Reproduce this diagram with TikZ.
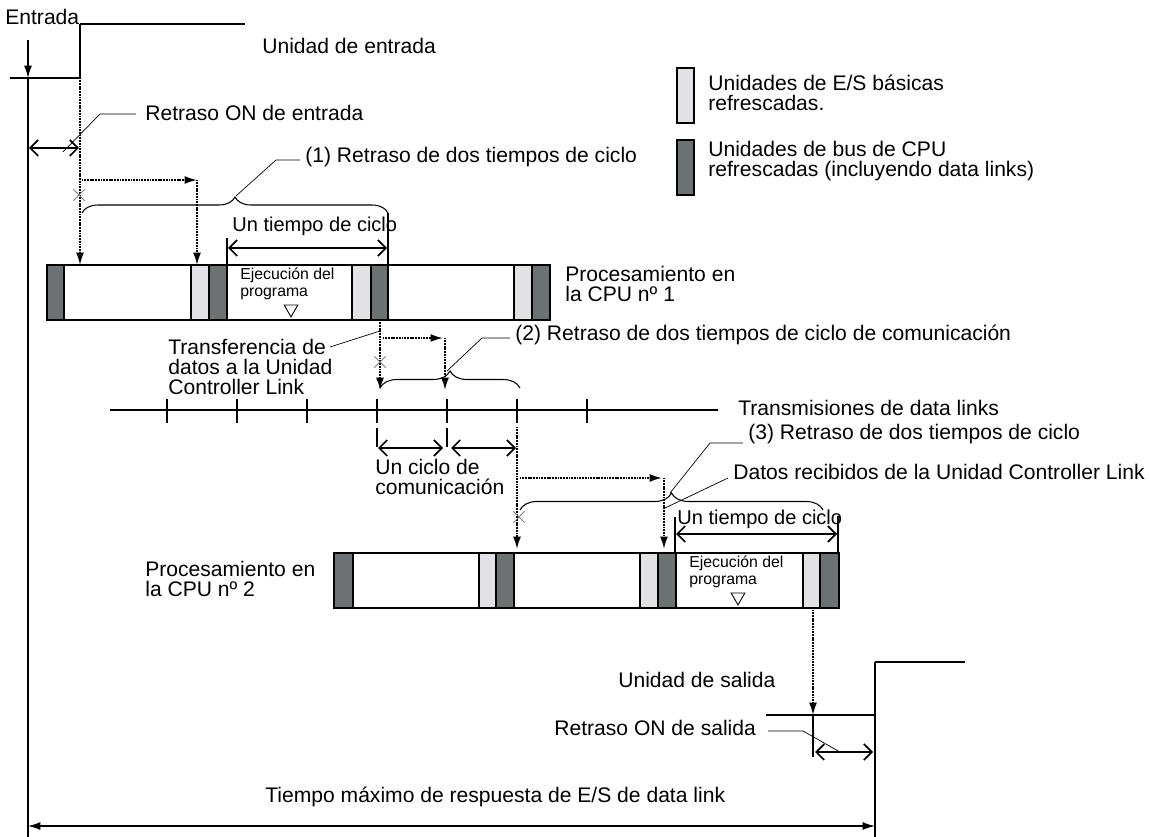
\documentclass[tikz,border=0pt]{standalone}
\usepackage{fontspec}
\setmainfont{Liberation Sans}
\usetikzlibrary{arrows.meta, decorations.pathreplacing, shapes.geometric, shapes.misc}

\definecolor{iofill}{HTML}{E1E2E5}
\definecolor{busfill}{HTML}{6C7173}

\begin{document}
\begin{tikzpicture}[
	x=0.02cm, y=-0.02cm,
	lbl/.style={anchor=west, inner sep=0pt, font=\fontsize{12}{11.5}\selectfont, align=left},
	cyctxt/.style={anchor=west, inner sep=0pt, font=\fontsize{11.4}{12}\selectfont},
	smalltxt/.style={anchor=west, inner sep=0pt, font=\fontsize{9}{9.8}\selectfont, align=left},
	iobox/.style={draw, line width=0.6pt, fill=iofill},
	busbox/.style={draw, line width=0.6pt, fill=busfill},
	runbox/.style={draw, line width=0.6pt, fill=white},
	flow/.style={dash pattern=on 0.6pt off 0.3pt, line width=1pt, -{Latex[length=7pt, width=4.5pt]}},
	span/.style={line width=1pt, {Straight Barb[length=4.5pt, width=9pt]}-{Straight Barb[length=4.5pt, width=9pt]}},
	lead/.style={line width=0.4pt},
	marktick/.style={line width=0.6pt},
	brc/.style={decorate, decoration={brace, amplitude=#1}, line width=0.6pt},
	xmark/.style={cross out, draw=gray, line width=0.5pt, minimum size=6pt, inner sep=0pt},
	tri/.style={regular polygon, regular polygon sides=3, shape border rotate=180, draw, line width=0.5pt, inner sep=0pt, minimum size=9pt}
	]
	\useasboundingbox (0,0) rectangle (1149,837);

	% input unit
	\node[lbl] (entrada) at (5,17) {Entrada};
	\draw[line width=0.6pt] (10,78) -- (80,78) -- (80,24);
	\draw[line width=1pt] (80,24) -- (245,24);
	\node[lbl] (unient) at (262,46) {Unidad de entrada};
	\coordinate (inL) at (28,78);
	\coordinate (inR) at (80,78);
	\draw[line width=0.8pt, -{Latex[length=7pt, width=4.5pt]}] (28,40) -- (inL);
	\draw[line width=0.6pt] (inL) -- (28,837);
	\draw[span] (29,148) -- (79,148);
	\node[lbl] (retent) at (145,113) {Retraso ON de entrada};
	\draw[lead] (136,114) -- (100,114) -- (63,152);

	% legend
	\draw[iobox] (677,68) rectangle (694,123);
	\draw[busbox] (677,140) rectangle (694,195);
	\node[lbl] (legio) at (708,93) {Unidades de E/S básicas\\refrescadas.};
	\node[lbl] (legbus) at (708,161) {Unidades de bus de CPU\\refrescadas (incluyendo data links)};

	% delay (1)
	\draw[flow] (inR) -- (80,265);
	\draw[flow] (82,180) -- (197,180);
	\draw[flow] (197,180) -- (197,265);
	\node[xmark] (x1) at (79,195) {};
	\draw[brc=0.32cm] (82,213) -- (388,213);
	\draw[lead] (236,196) -- (276,160) -- (300,160);
	\node[lbl] (ret1) at (305,157) {(1) Retraso de dos tiempos de ciclo};
	\node[cyctxt] (ciclo1) at (232,226) {Un tiempo de ciclo};
	\draw[marktick] (227,238) -- (227,265);
	\draw[marktick] (388,213) -- (388,265);
	\draw[span] (228,248) -- (387,248);

	% CPU 1
	\foreach \xa/\xb/\kind in {47/64/busbox, 64/191/runbox, 191/209/iobox, 209/227/busbox,
		227/352/runbox, 352/371/iobox, 371/388/busbox, 388/514/runbox, 514/532/iobox, 532/550/busbox}
		\draw[\kind] (\xa,265) rectangle (\xb,320);
	\node[smalltxt] (ejec1) at (240,284) {Ejecución del\\programa};
	\node[tri] (tri1) at (291,309) {};
	\node[lbl] (cpu1) at (565,284) {Procesamiento en\\la CPU nº 1};

	% delay (2)
	\coordinate (tx) at (380,320);
	\draw[flow] (tx) -- (380,390);
	\node[lbl] (transf) at (168,367) {Transferencia de\\datos a la Unidad\\Controller Link};
	\draw[lead] (330,347) -- (380,331);
	\draw[flow] (383,338) -- (443,338);
	\draw[flow] (445,338) -- (445,390);
	\node[xmark] (x2) at (380,362) {};
	\draw[brc=0.34cm] (380,388) -- (520,388);
	\draw[lead] (447,371) -- (482,338) -- (510,338);
	\node[lbl] (ret2) at (515,335) {(2) Retraso de dos tiempos de ciclo de comunicación};

	% data link transmissions
	\draw[line width=0.9pt] (110,410) -- (718,410);
	\foreach \x in {167,237,...,587}
		\draw[marktick] (\x,399) -- (\x,423);
	\node[lbl] (trans) at (738,408) {Transmisiones de data links};
	\draw[marktick] (377,428) -- (377,447);
	\draw[marktick] (447,428) -- (447,447);
	\draw[span] (378,448) -- (443,448);
	\draw[span] (451,448) -- (516,448);
	\node[lbl] (ucom) at (375,477) {Un ciclo de\\comunicación};

	% delay (3)
	\draw[flow] (517,427) -- (517,549);
	\draw[flow] (520,478) -- (662,478);
	\draw[flow] (664,478) -- (664,549);
	\node[xmark] (x3) at (519,517) {};
	\draw[brc=0.34cm] (520,510) -- (823,510);
	\draw[lead] (670,493) -- (710,443) -- (743,443);
	\node[lbl] (ret3) at (748,434) {(3) Retraso de dos tiempos de ciclo};
	\node[lbl] (datos) at (733,472) {Datos recibidos de la Unidad Controller Link};
	\draw[lead] (665,508) -- (728,478);
	\node[cyctxt] (ciclo2) at (677,519) {Un tiempo de ciclo};
	\draw[marktick] (675,517) -- (675,553);
	\draw[marktick] (838,516) -- (838,553);
	\draw[span] (676,534) -- (837,534);

	% CPU 2
	\foreach \xa/\xb/\kind in {334/353/busbox, 353/479/runbox, 479/496/iobox, 496/514/busbox,
		514/640/runbox, 640/658/iobox, 658/676/busbox, 676/803/runbox, 803/820/iobox, 820/839/busbox}
		\draw[\kind] (\xa,553) rectangle (\xb,608);
	\node[smalltxt] (ejec2) at (689,572) {Ejecución del\\programa};
	\node[tri] (tri2) at (738,597) {};
	\node[lbl] (cpu2) at (145,579) {Procesamiento en\\la CPU nº 2};

	% output unit
	\coordinate (outL) at (813,715);
	\coordinate (outR) at (875,715);
	\draw[flow] (813,610) -- (outL);
	\draw[line width=0.6pt] (766,715) -- (outR) -- (875,662);
	\draw[line width=1pt] (875,662) -- (965,662);
	\draw[line width=0.6pt] (outR) -- (875,837);
	\draw[marktick] (outL) -- (813,757);
	\draw[span] (815,752) -- (873,752);
	\node[lbl] (unisal) at (618,680) {Unidad de salida};
	\node[lbl] (retsal) at (554,728) {Retraso ON de salida};
	\draw[lead] (768,731) -- (803,731) -- (840,752);

	% total response time
	\draw[line width=0.8pt, {Latex[length=7pt, width=4.5pt]}-{Latex[length=7pt, width=4.5pt]}] (28,826) -- (875,826);
	\node[lbl] (total) at (265,797) {Tiempo máximo de respuesta de E/S de data link};
\end{tikzpicture}
\end{document}
